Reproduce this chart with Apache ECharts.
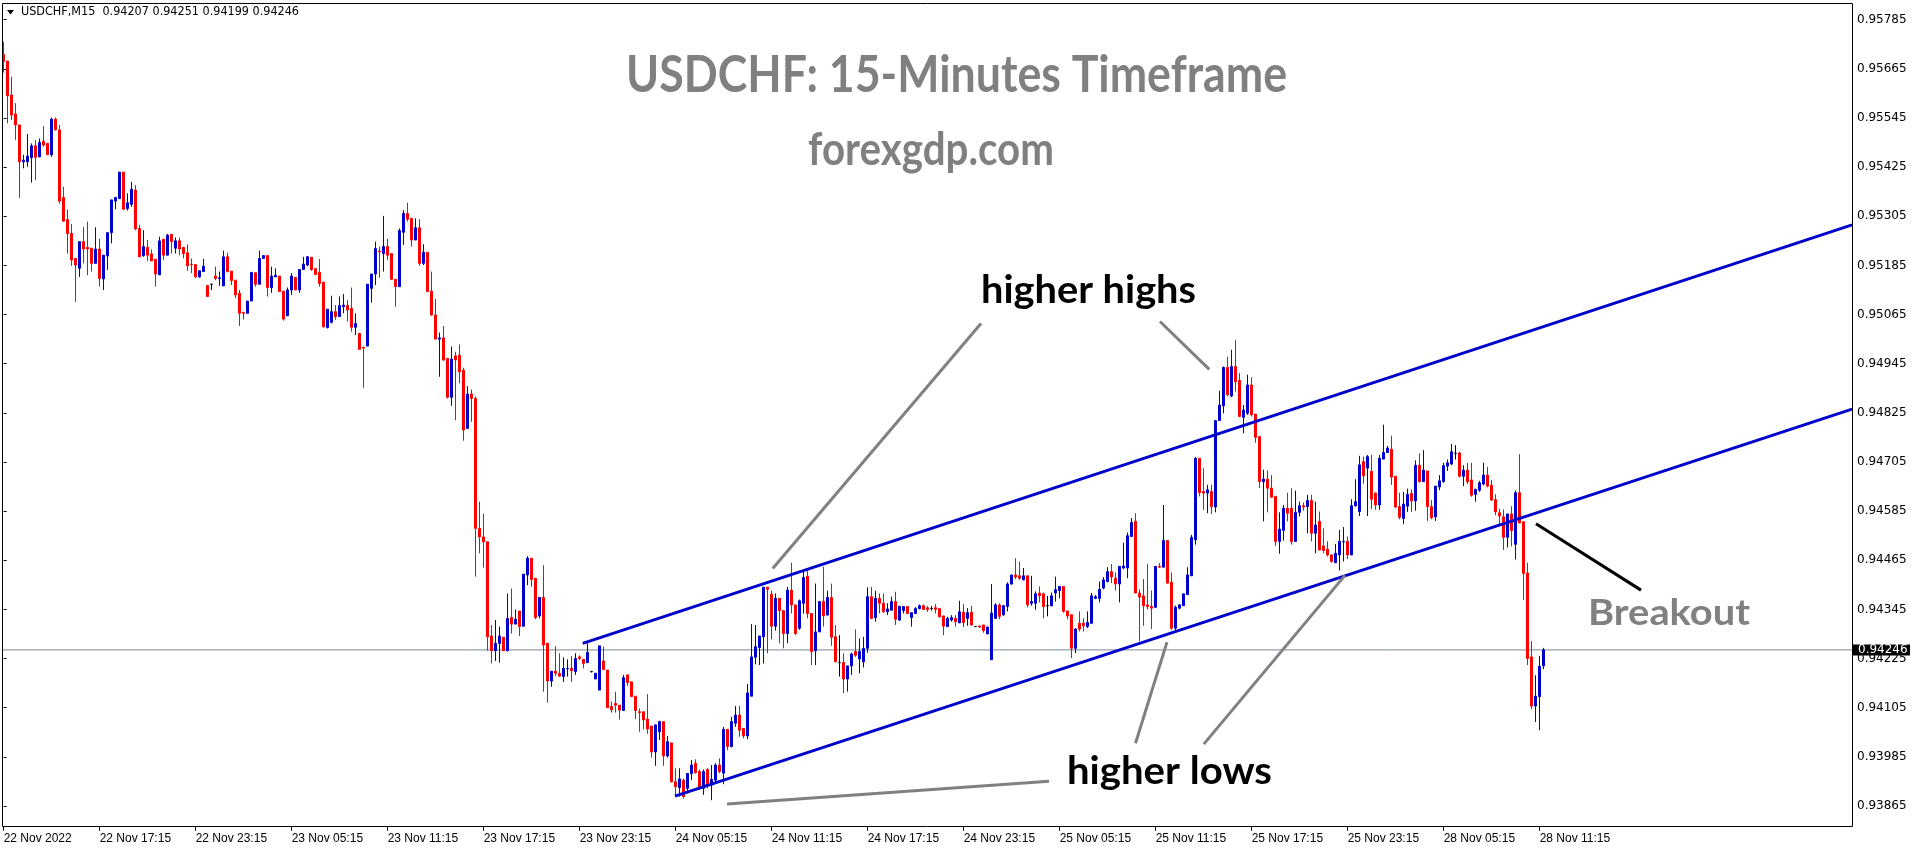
<!DOCTYPE html>
<html><head><meta charset="utf-8">
<script src="https://cdn.jsdelivr.net/npm/echarts@6/dist/echarts.min.js"></script>
<style>html,body{margin:0;padding:0;background:#fff}#c{width:1916px;height:850px}</style>
</head><body><div id="c"></div>
<script>
const symbolName = 'USDCHF,M15';
const tickLabels = ['22 Nov 2022','22 Nov 17:15','22 Nov 23:15','23 Nov 05:15','23 Nov 11:15','23 Nov 17:15','23 Nov 23:15','24 Nov 05:15','24 Nov 11:15','24 Nov 17:15','24 Nov 23:15','25 Nov 05:15','25 Nov 11:15','25 Nov 17:15','25 Nov 23:15','28 Nov 05:15','28 Nov 11:15'];
const barsPerTick = 24;
const priceTicks = [0.95785,0.95665,0.95545,0.95425,0.95305,0.95185,0.95065,0.94945,0.94825,0.94705,0.94585,0.94465,0.94345,0.94225,0.94105,0.93985,0.93865];

const opens = [
0.95700,0.95684,0.95601,0.95555,0.95528,0.95438,0.95438,0.95448,0.95477,0.95450,
0.95488,0.95483,0.95455,0.95542,0.95516,0.95351,0.95297,0.95263,0.95202,0.95178,
0.95243,0.95229,0.95227,0.95190,0.95225,0.95152,0.95208,0.95265,0.95342,0.95348,
0.95413,0.95324,0.95334,0.95369,0.95275,0.95209,0.95229,0.95213,0.95200,0.95162,
0.95249,0.95210,0.95261,0.95227,0.95245,0.95229,0.95216,0.95188,0.95187,0.95157,
0.95170,0.95136,0.95139,0.95159,0.95153,0.95135,0.95206,0.95171,0.95149,0.95117,
0.95070,0.95068,0.95098,0.95167,0.95139,0.95202,0.95209,0.95131,0.95157,0.95159,
0.95122,0.95062,0.95125,0.95156,0.95125,0.95175,0.95186,0.95205,0.95177,0.95168,
0.95144,0.95033,0.95046,0.95072,0.95060,0.95084,0.95087,0.95080,0.95034,0.95019,
0.94985,0.94988,0.95129,0.95164,0.95220,0.95214,0.95231,0.95214,0.95151,0.95133,
0.95266,0.95312,0.95300,0.95247,0.95277,0.95190,0.95217,0.95122,0.95064,0.95005,
0.95008,0.94958,0.94863,0.94964,0.94966,0.94929,0.94787,0.94871,0.94860,0.94543,
0.94522,0.94510,0.94280,0.94244,0.94262,0.94277,0.94244,0.94325,0.94309,0.94341,
0.94304,0.94429,0.94470,0.94421,0.94329,0.94374,0.94262,0.94170,0.94194,0.94189,
0.94181,0.94200,0.94201,0.94193,0.94229,0.94223,0.94215,0.94193,0.94175,0.94148,
0.94219,0.94197,0.94108,0.94115,0.94111,0.94098,0.94185,0.94168,0.94133,0.94095,
0.94095,0.94077,0.94060,0.93997,0.94046,0.94071,0.93987,0.94019,0.93924,0.93910,
0.93928,0.93908,0.93944,0.93969,0.93949,0.93908,0.93954,0.93916,0.93928,0.93965,
0.93945,0.94052,0.94010,0.94067,0.94087,0.94054,0.94036,0.94133,0.94228,0.94252,
0.94278,0.94399,0.94382,0.94304,0.94372,0.94342,0.94286,0.94392,0.94356,0.94299,
0.94360,0.94426,0.94335,0.94244,0.94290,0.94364,0.94331,0.94374,0.94278,0.94215,
0.94215,0.94175,0.94207,0.94242,0.94224,0.94217,0.94250,0.94376,0.94325,0.94372,
0.94360,0.94339,0.94343,0.94364,0.94319,0.94342,0.94352,0.94325,0.94335,0.94347,
0.94354,0.94349,0.94347,0.94349,0.94347,0.94329,0.94303,0.94319,0.94323,0.94312,
0.94338,0.94323,0.94338,0.94303,0.94304,0.94307,0.94285,0.94222,0.94323,0.94356,
0.94332,0.94352,0.94407,0.94429,0.94427,0.94417,0.94427,0.94360,0.94360,0.94385,
0.94383,0.94354,0.94354,0.94385,0.94391,0.94401,0.94341,0.94332,0.94250,0.94311,
0.94311,0.94303,0.94311,0.94372,0.94372,0.94397,0.94413,0.94437,0.94421,0.94407,
0.94446,0.94446,0.94523,0.94560,0.94385,0.94378,0.94356,0.94352,0.94350,0.94450,
0.94448,0.94513,0.94411,0.94299,0.94348,0.94354,0.94381,0.94427,0.94515,0.94714,
0.94633,0.94629,0.94633,0.94595,0.94806,0.94842,0.94936,0.94866,0.94938,0.94904,
0.94814,0.94824,0.94893,0.94822,0.94767,0.94657,0.94663,0.94641,0.94621,0.94511,
0.94538,0.94592,0.94592,0.94511,0.94582,0.94598,0.94596,0.94611,0.94531,0.94560,
0.94500,0.94492,0.94478,0.94459,0.94478,0.94510,0.94511,0.94478,0.94598,0.94584,
0.94706,0.94690,0.94682,0.94629,0.94600,0.94712,0.94728,0.94736,0.94670,0.94596,
0.94567,0.94597,0.94628,0.94610,0.94697,0.94657,0.94683,0.94596,0.94571,0.94644,
0.94657,0.94695,0.94700,0.94726,0.94727,0.94670,0.94685,0.94661,0.94626,0.94636,
0.94651,0.94673,0.94648,0.94613,0.94581,0.94571,0.94521,0.94578,0.94504,0.94630,
0.94559,0.94434,0.94229,0.94109,0.94132,0.94207];

const highs = [
0.95731,0.95684,0.95646,0.95581,0.95528,0.95455,0.95506,0.95483,0.95491,0.95495,
0.95525,0.95483,0.95546,0.95546,0.95528,0.95377,0.95322,0.95286,0.95202,0.95243,
0.95279,0.95292,0.95227,0.95278,0.95250,0.95210,0.95265,0.95345,0.95351,0.95413,
0.95413,0.95361,0.95389,0.95381,0.95284,0.95271,0.95247,0.95224,0.95200,0.95255,
0.95249,0.95262,0.95261,0.95253,0.95253,0.95229,0.95236,0.95202,0.95187,0.95172,
0.95201,0.95136,0.95139,0.95182,0.95170,0.95221,0.95216,0.95171,0.95149,0.95125,
0.95072,0.95098,0.95168,0.95167,0.95221,0.95210,0.95209,0.95182,0.95178,0.95159,
0.95122,0.95131,0.95166,0.95156,0.95175,0.95206,0.95208,0.95205,0.95177,0.95201,
0.95144,0.95078,0.95111,0.95088,0.95109,0.95115,0.95100,0.95131,0.95068,0.95019,
0.94986,0.95139,0.95164,0.95243,0.95231,0.95306,0.95250,0.95214,0.95151,0.95275,
0.95320,0.95338,0.95300,0.95300,0.95298,0.95237,0.95217,0.95170,0.95103,0.95021,
0.95037,0.94958,0.94987,0.94974,0.94992,0.94935,0.94890,0.94882,0.94865,0.94608,
0.94579,0.94510,0.94307,0.94319,0.94303,0.94277,0.94384,0.94396,0.94345,0.94341,
0.94431,0.94475,0.94470,0.94421,0.94374,0.94453,0.94264,0.94194,0.94255,0.94238,
0.94228,0.94223,0.94231,0.94238,0.94233,0.94223,0.94264,0.94195,0.94189,0.94256,
0.94254,0.94197,0.94120,0.94144,0.94111,0.94185,0.94185,0.94168,0.94133,0.94103,
0.94095,0.94138,0.94060,0.94063,0.94073,0.94071,0.94036,0.94019,0.93957,0.93957,
0.93932,0.93944,0.93977,0.93979,0.93954,0.93954,0.93957,0.93965,0.93969,0.93981,
0.94058,0.94052,0.94083,0.94109,0.94109,0.94054,0.94163,0.94309,0.94307,0.94280,
0.94400,0.94399,0.94391,0.94384,0.94372,0.94342,0.94400,0.94459,0.94356,0.94369,
0.94441,0.94441,0.94335,0.94408,0.94364,0.94449,0.94391,0.94408,0.94307,0.94282,
0.94238,0.94207,0.94239,0.94296,0.94274,0.94278,0.94399,0.94400,0.94391,0.94384,
0.94384,0.94360,0.94376,0.94388,0.94354,0.94353,0.94353,0.94337,0.94351,0.94357,
0.94357,0.94353,0.94353,0.94358,0.94347,0.94329,0.94327,0.94331,0.94331,0.94366,
0.94358,0.94348,0.94354,0.94303,0.94306,0.94307,0.94302,0.94407,0.94360,0.94360,
0.94356,0.94411,0.94429,0.94470,0.94462,0.94446,0.94427,0.94427,0.94389,0.94401,
0.94386,0.94378,0.94386,0.94425,0.94401,0.94402,0.94341,0.94332,0.94299,0.94340,
0.94323,0.94340,0.94385,0.94380,0.94413,0.94424,0.94448,0.94456,0.94435,0.94451,
0.94508,0.94533,0.94568,0.94580,0.94394,0.94419,0.94456,0.94391,0.94451,0.94458,
0.94600,0.94513,0.94435,0.94354,0.94358,0.94383,0.94448,0.94527,0.94717,0.94714,
0.94690,0.94649,0.94649,0.94806,0.94879,0.94938,0.94962,0.94979,0.95003,0.94922,
0.94844,0.94918,0.94912,0.94822,0.94767,0.94686,0.94684,0.94673,0.94621,0.94582,
0.94600,0.94630,0.94641,0.94635,0.94608,0.94606,0.94625,0.94625,0.94608,0.94584,
0.94543,0.94511,0.94478,0.94505,0.94539,0.94546,0.94523,0.94614,0.94663,0.94720,
0.94718,0.94722,0.94722,0.94630,0.94722,0.94796,0.94744,0.94769,0.94670,0.94630,
0.94632,0.94640,0.94638,0.94709,0.94726,0.94734,0.94683,0.94612,0.94646,0.94673,
0.94703,0.94711,0.94749,0.94746,0.94730,0.94697,0.94703,0.94703,0.94640,0.94659,
0.94703,0.94693,0.94661,0.94626,0.94591,0.94589,0.94578,0.94597,0.94635,0.94724,
0.94559,0.94459,0.94268,0.94184,0.94231,0.94251];

const lows = [
0.95656,0.95532,0.95540,0.95491,0.95350,0.95422,0.95426,0.95387,0.95393,0.95450,
0.95475,0.95455,0.95450,0.95514,0.95336,0.95292,0.95214,0.95184,0.95096,0.95157,
0.95190,0.95161,0.95170,0.95190,0.95133,0.95125,0.95174,0.95239,0.95322,0.95348,
0.95322,0.95319,0.95328,0.95271,0.95205,0.95206,0.95196,0.95196,0.95133,0.95162,
0.95198,0.95210,0.95214,0.95214,0.95210,0.95202,0.95172,0.95166,0.95155,0.95155,
0.95170,0.95109,0.95125,0.95149,0.95135,0.95135,0.95168,0.95137,0.95105,0.95037,
0.95053,0.95068,0.95098,0.95133,0.95139,0.95202,0.95109,0.95118,0.95157,0.95121,
0.95050,0.95062,0.95113,0.95125,0.95118,0.95175,0.95183,0.95172,0.95161,0.95133,
0.95033,0.95031,0.95043,0.95052,0.95060,0.95068,0.95048,0.95023,0.95015,0.94980,
0.94886,0.94988,0.95094,0.95137,0.95155,0.95170,0.95198,0.95149,0.95084,0.95133,
0.95235,0.95292,0.95231,0.95247,0.95184,0.95186,0.95121,0.95062,0.95005,0.94913,
0.94952,0.94860,0.94842,0.94807,0.94897,0.94757,0.94787,0.94803,0.94425,0.94482,
0.94447,0.94244,0.94213,0.94219,0.94215,0.94244,0.94242,0.94286,0.94309,0.94280,
0.94303,0.94404,0.94400,0.94321,0.94323,0.94144,0.94117,0.94156,0.94182,0.94181,
0.94168,0.94181,0.94168,0.94185,0.94221,0.94201,0.94215,0.94191,0.94175,0.94148,
0.94198,0.94105,0.94093,0.94093,0.94076,0.94098,0.94158,0.94132,0.94077,0.94046,
0.94052,0.94041,0.93983,0.93963,0.94026,0.93963,0.93983,0.93922,0.93888,0.93888,
0.93883,0.93896,0.93928,0.93944,0.93904,0.93892,0.93908,0.93879,0.93920,0.93945,
0.93918,0.94001,0.94008,0.94058,0.94034,0.94030,0.94028,0.94133,0.94211,0.94209,
0.94213,0.94238,0.94272,0.94293,0.94262,0.94250,0.94262,0.94335,0.94282,0.94295,
0.94335,0.94323,0.94209,0.94209,0.94290,0.94303,0.94331,0.94256,0.94217,0.94181,
0.94140,0.94144,0.94185,0.94229,0.94189,0.94203,0.94239,0.94321,0.94315,0.94335,
0.94337,0.94331,0.94343,0.94307,0.94317,0.94335,0.94335,0.94303,0.94334,0.94345,
0.94343,0.94339,0.94342,0.94335,0.94325,0.94282,0.94303,0.94315,0.94303,0.94312,
0.94302,0.94305,0.94305,0.94303,0.94300,0.94288,0.94285,0.94222,0.94323,0.94321,
0.94329,0.94340,0.94405,0.94419,0.94417,0.94417,0.94350,0.94354,0.94344,0.94362,
0.94323,0.94328,0.94352,0.94364,0.94372,0.94337,0.94321,0.94226,0.94238,0.94291,
0.94291,0.94299,0.94310,0.94370,0.94362,0.94394,0.94411,0.94409,0.94391,0.94362,
0.94443,0.94421,0.94523,0.94385,0.94267,0.94305,0.94345,0.94297,0.94350,0.94446,
0.94448,0.94409,0.94295,0.94293,0.94345,0.94354,0.94381,0.94427,0.94503,0.94621,
0.94588,0.94580,0.94578,0.94582,0.94806,0.94824,0.94865,0.94863,0.94877,0.94816,
0.94775,0.94820,0.94816,0.94752,0.94641,0.94560,0.94582,0.94617,0.94500,0.94481,
0.94513,0.94560,0.94503,0.94511,0.94572,0.94586,0.94531,0.94511,0.94482,0.94489,
0.94482,0.94474,0.94459,0.94458,0.94440,0.94462,0.94468,0.94478,0.94596,0.94573,
0.94652,0.94573,0.94590,0.94588,0.94588,0.94712,0.94728,0.94649,0.94592,0.94565,
0.94553,0.94583,0.94583,0.94586,0.94654,0.94657,0.94561,0.94565,0.94561,0.94636,
0.94654,0.94683,0.94697,0.94711,0.94667,0.94646,0.94651,0.94620,0.94608,0.94632,
0.94648,0.94643,0.94610,0.94575,0.94553,0.94490,0.94496,0.94499,0.94467,0.94556,
0.94368,0.94209,0.94101,0.94070,0.94050,0.94199];

const closes = [
0.95683,0.95599,0.95552,0.95528,0.95438,0.95442,0.95452,0.95477,0.95449,0.95485,
0.95479,0.95455,0.95542,0.95516,0.95342,0.95293,0.95263,0.95198,0.95186,0.95243,
0.95225,0.95225,0.95190,0.95225,0.95153,0.95210,0.95265,0.95345,0.95351,0.95413,
0.95322,0.95338,0.95371,0.95274,0.95206,0.95231,0.95210,0.95196,0.95164,0.95245,
0.95210,0.95259,0.95243,0.95245,0.95225,0.95214,0.95184,0.95187,0.95157,0.95172,
0.95183,0.95109,0.95139,0.95153,0.95155,0.95206,0.95170,0.95148,0.95113,0.95068,
0.95068,0.95098,0.95168,0.95139,0.95202,0.95209,0.95131,0.95159,0.95161,0.95121,
0.95054,0.95125,0.95159,0.95125,0.95175,0.95188,0.95206,0.95175,0.95163,0.95141,
0.95035,0.95078,0.95072,0.95060,0.95087,0.95088,0.95076,0.95034,0.95043,0.94980,
0.94983,0.95139,0.95164,0.95226,0.95218,0.95231,0.95210,0.95151,0.95133,0.95270,
0.95312,0.95298,0.95247,0.95277,0.95190,0.95217,0.95121,0.95064,0.95005,0.95008,
0.94954,0.94863,0.94956,0.94954,0.94925,0.94783,0.94871,0.94860,0.94543,0.94522,
0.94510,0.94278,0.94244,0.94262,0.94280,0.94244,0.94323,0.94309,0.94321,0.94303,
0.94431,0.94470,0.94418,0.94325,0.94374,0.94258,0.94170,0.94194,0.94189,0.94182,
0.94201,0.94201,0.94195,0.94225,0.94225,0.94213,0.94240,0.94193,0.94189,0.94256,
0.94198,0.94105,0.94100,0.94111,0.94099,0.94178,0.94166,0.94132,0.94098,0.94093,
0.94075,0.94053,0.93997,0.94063,0.94071,0.93987,0.94022,0.93924,0.93912,0.93931,
0.93888,0.93944,0.93965,0.93946,0.93908,0.93949,0.93916,0.93930,0.93965,0.93949,
0.94052,0.94010,0.94071,0.94087,0.94050,0.94036,0.94141,0.94229,0.94254,0.94280,
0.94399,0.94394,0.94304,0.94372,0.94342,0.94286,0.94392,0.94356,0.94286,0.94366,
0.94423,0.94335,0.94242,0.94290,0.94364,0.94329,0.94374,0.94277,0.94217,0.94215,
0.94175,0.94207,0.94236,0.94233,0.94242,0.94250,0.94376,0.94323,0.94372,0.94360,
0.94339,0.94346,0.94364,0.94321,0.94352,0.94352,0.94335,0.94337,0.94347,0.94354,
0.94345,0.94345,0.94347,0.94345,0.94327,0.94304,0.94323,0.94325,0.94315,0.94339,
0.94313,0.94337,0.94307,0.94303,0.94302,0.94293,0.94302,0.94336,0.94356,0.94328,
0.94354,0.94407,0.94429,0.94424,0.94421,0.94427,0.94356,0.94364,0.94383,0.94378,
0.94352,0.94354,0.94378,0.94393,0.94401,0.94340,0.94329,0.94250,0.94297,0.94297,
0.94305,0.94313,0.94378,0.94376,0.94394,0.94417,0.94437,0.94424,0.94407,0.94450,
0.94451,0.94525,0.94557,0.94385,0.94375,0.94354,0.94352,0.94348,0.94450,0.94448,
0.94513,0.94409,0.94299,0.94350,0.94356,0.94383,0.94429,0.94521,0.94714,0.94630,
0.94629,0.94637,0.94596,0.94806,0.94844,0.94936,0.94869,0.94938,0.94901,0.94816,
0.94832,0.94893,0.94820,0.94765,0.94657,0.94663,0.94641,0.94619,0.94511,0.94541,
0.94592,0.94580,0.94511,0.94582,0.94598,0.94595,0.94611,0.94531,0.94551,0.94490,
0.94489,0.94478,0.94462,0.94482,0.94511,0.94511,0.94478,0.94598,0.94608,0.94698,
0.94671,0.94718,0.94614,0.94600,0.94714,0.94728,0.94739,0.94668,0.94595,0.94570,
0.94602,0.94626,0.94610,0.94697,0.94657,0.94685,0.94596,0.94569,0.94646,0.94659,
0.94696,0.94703,0.94730,0.94726,0.94670,0.94685,0.94657,0.94624,0.94638,0.94654,
0.94673,0.94646,0.94612,0.94583,0.94573,0.94521,0.94578,0.94537,0.94630,0.94556,
0.94433,0.94225,0.94109,0.94133,0.94206,0.94246];

// trend lines and annotation pointers: [barIndex, price]
const upperChannel = [[144.76, 0.94262], [462.1, 0.95284]];
const lowerChannel = [[167.83, 0.93889], [462.1, 0.94834]];
const higherHighsPointerA = [[192.26, 0.94445], [244.33, 0.95043]];
const higherHighsPointerB = [[289.08, 0.95048], [301.40, 0.94931]];
const higherLowsPointerA = [[290.83, 0.94265], [282.96, 0.94018]];
const higherLowsPointerB = [[335.33, 0.94428], [300.03, 0.94016]];
const higherLowsPointerC = [[180.83, 0.93870], [261.33, 0.93925]];
const breakoutPointer = [[383.08, 0.94554], [409.33, 0.94392]];

const slotCount = 463;
const yMin = 0.938143, yMax = 0.958258;
const BLUE = '#0000CD', RED = '#FF0000';

const n = Math.min(opens.length, highs.length, lows.length, closes.length);
const cats = Array.from({length: slotCount}, (_, i) => String(i));
const candleData = [];
for (let i = 0; i < n; i++) {
  const v = [opens[i], closes[i], lows[i], highs[i]];
  if (opens[i] === closes[i]) candleData.push({value: v, itemStyle: {color: '#000', color0: '#000', borderColor: '#000', borderColor0: '#000'}});
  else candleData.push(v);
}
const lastO = opens[n-1], lastH = highs[n-1], lastL = lows[n-1], lastC = closes[n-1];
const lastTickIdx = (tickLabels.length - 1) * barsPerTick;
const showTick = (i) => i % barsPerTick === 0 && i <= lastTickIdx;
const bidLine = [[-0.5, lastC], [slotCount - 0.5, lastC]];

function lineSeries(data, color, width, z) {
  return {type: 'line', xAxisIndex: 1, yAxisIndex: 0, data: data, symbol: 'none', silent: true, z: z,
    lineStyle: {color: color, width: width, cap: 'butt'}, clip: true};
}

const chart = echarts.init(document.getElementById('c'), null, {renderer: 'canvas'});
const option = {
  animation: false,
  backgroundColor: '#ffffff',
  grid: {left: 1.67, top: 3, width: 1852, height: 823.7, show: false},
  xAxis: [
    {type: 'category', data: cats, boundaryGap: true,
     axisLine: {show: false}, splitLine: {show: false},
     axisTick: {show: true, alignWithLabel: true, interval: (i) => showTick(i), length: 4, lineStyle: {color: '#000', width: 1}},
     axisLabel: {interval: (i) => showTick(i), formatter: (v, i) => tickLabels[i / barsPerTick] || '', align: 'left', margin: 6,
       color: '#000', fontFamily: 'Liberation Sans', fontSize: 12}},
    {type: 'value', min: -0.5, max: slotCount - 0.5, show: false}
  ],
  yAxis: {type: 'value', position: 'right', min: yMin, max: yMax, offset: -1.67,
    axisLine: {show: false}, splitLine: {show: false},
    axisTick: {show: true, customValues: priceTicks, length: 3, lineStyle: {color: '#000'}},
    axisLabel: {customValues: priceTicks, formatter: (v) => v.toFixed(5), margin: 5, color: '#000', fontFamily: 'DejaVu Sans', fontSize: 12}},
  series: [
    lineSeries(bidLine, '#778899', 1, 1),
    {type: 'candlestick', xAxisIndex: 0, yAxisIndex: 0, data: candleData, barWidth: 2, z: 3,
     itemStyle: {color: BLUE, color0: RED, borderColor: BLUE, borderColor0: RED, borderWidth: 1}},
    lineSeries(upperChannel, BLUE, 3, 4),
    lineSeries(lowerChannel, BLUE, 3, 4),
    lineSeries(higherHighsPointerA, '#808080', 3, 4),
    lineSeries(higherHighsPointerB, '#808080', 3, 4),
    lineSeries(higherLowsPointerA, '#808080', 3, 4),
    lineSeries(higherLowsPointerB, '#808080', 3, 4),
    lineSeries(higherLowsPointerC, '#808080', 3, 4),
    lineSeries(breakoutPointer, '#000000', 3, 4)
  ]
};
chart.setOption(option);

const mctx = document.createElement('canvas').getContext('2d');
function fitScale(txt, font, target) { mctx.font = font; const w = mctx.measureText(txt).width; return w > 0 ? target / w : 1; }
function label(txt, size, x, y, width, color, align) {
  const font = 'bold ' + size + 'px Lato';
  return {type: 'text', x: x, y: y, scaleX: fitScale(txt, font, width), z: 50, silent: true,
    style: {text: txt, font: font, fill: color, align: align, verticalAlign: 'middle'}};
}
const yLast = chart.convertToPixel({yAxisIndex: 0}, lastC);
const header = symbolName + '  ' + lastO.toFixed(5) + ' ' + lastH.toFixed(5) + ' ' + lastL.toFixed(5) + ' ' + lastC.toFixed(5);
const headerFont = '13px "DejaVu Sans"';
chart.setOption({graphic: [
  {type: 'rect', shape: {x: 2.5, y: 3.5, width: 1850, height: 823}, style: {fill: 'none', stroke: '#000', lineWidth: 1}, z: 60, silent: true},
  {type: 'polygon', shape: {points: [[7, 10], [14, 10], [10.5, 14.5]]}, style: {fill: '#000'}, z: 60, silent: true},
  {type: 'text', x: 21, y: 12, z: 60, silent: true, scaleX: fitScale(header, headerFont, 278),
   style: {text: header, font: headerFont, fill: '#000', align: 'left', verticalAlign: 'middle'}},
  label('USDCHF: 15-Minutes Timeframe', 51, 956.5, 75.7, 661, '#808080', 'center'),
  label('forexgdp.com', 45, 931, 150, 246, '#808080', 'center'),
  label('higher highs', 39, 981, 290, 215, '#000000', 'left'),
  label('higher lows', 39, 1067, 771.5, 205, '#000000', 'left'),
  label('Breakout', 37, 1588, 613, 162, '#808080', 'left'),
  {type: 'rect', shape: {x: 1853, y: yLast - 5.5, width: 57, height: 11}, style: {fill: '#000'}, z: 70, silent: true},
  {type: 'text', x: 1858, y: yLast, z: 71, silent: true, style: {text: lastC.toFixed(5), font: '12px "DejaVu Sans"', fill: '#fff', align: 'left', verticalAlign: 'middle'}}
]});
</script>
</body></html>
